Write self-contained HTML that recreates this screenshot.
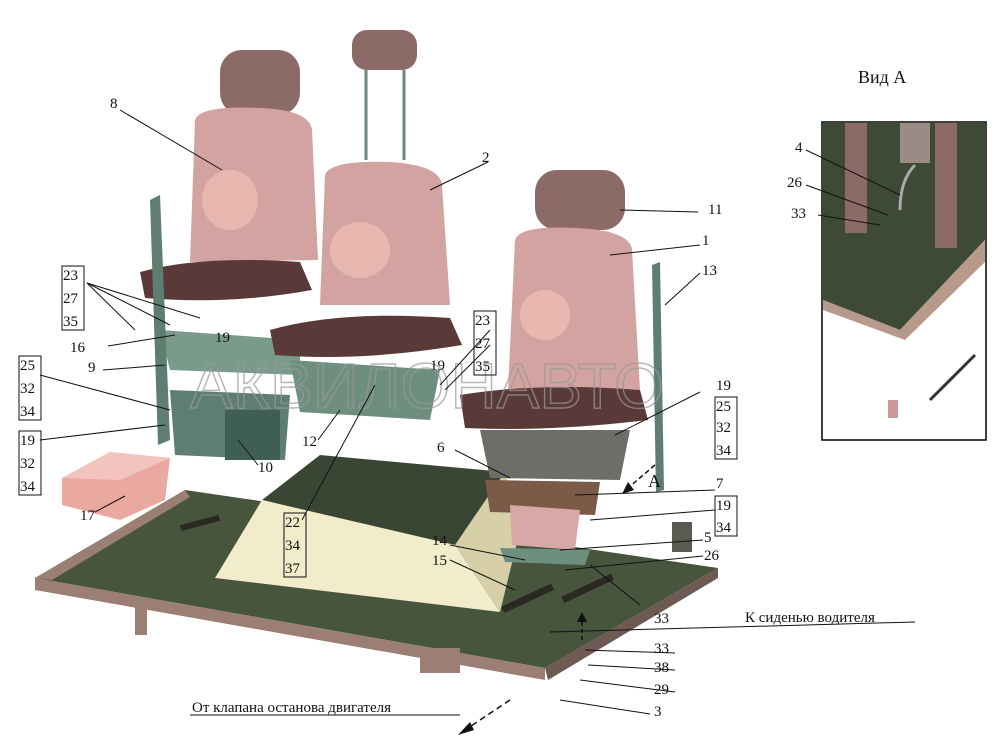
<!DOCTYPE html>
<html><head><meta charset="utf-8"><style>
html,body{margin:0;padding:0;background:#fff;}
svg{display:block}
text{font-family:"Liberation Serif",serif;font-size:15px;fill:#111}
</style></head><body>
<svg width="1000" height="756" viewBox="0 0 1000 756" xmlns="http://www.w3.org/2000/svg">
<!-- floor -->
<polygon points="185,490 718,568 545,668 35,578" fill="#46553b"/>
<polygon points="35,578 545,668 545,680 35,590" fill="#9b7f74"/>
<polygon points="35,578 185,490 190,497 52,580" fill="#9b7f74"/>
<polygon points="545,668 718,568 718,578 548,680" fill="#6e5a52"/>
<rect x="135" y="600" width="12" height="35" fill="#9b7f74"/>
<rect x="420" y="648" width="40" height="25" fill="#9b7f74"/>
<rect x="180" y="520" width="40" height="6" fill="#2a2a22" transform="rotate(-15 200 523)"/>
<rect x="500" y="595" width="55" height="7" fill="#2a2a22" transform="rotate(-25 527 598)"/>
<rect x="560" y="585" width="55" height="7" fill="#2a2a22" transform="rotate(-25 587 588)"/>
<!-- box platform -->
<polygon points="262,500 320,455 505,472 455,545" fill="#3a4634"/>
<polygon points="215,578 262,500 455,545 500,612" fill="#f2eccb"/>
<polygon points="455,545 505,472 520,530 500,612" fill="#d6cfa8"/>
<!-- left seat -->
<rect x="220" y="50" width="80" height="65" rx="22" fill="#8c6a68"/>
<path d="M195,120 Q200,105 260,108 Q310,110 312,130 L318,260 L190,262 Z" fill="#d3a3a2"/>
<ellipse cx="230" cy="200" rx="28" ry="30" fill="#e8b8b0"/>
<path d="M140,272 Q200,255 300,262 L312,290 Q230,305 145,298 Z" fill="#5a3a38"/>
<polygon points="160,330 300,340 300,375 170,370" fill="#7a9a8c"/>
<polygon points="170,390 290,395 285,460 175,455" fill="#5e7e72"/>
<rect x="225" y="410" width="55" height="50" fill="#3f5e55"/>
<polygon points="150,200 160,195 170,440 158,445" fill="#5e7e72"/>
<!-- middle seat -->
<rect x="352" y="30" width="65" height="40" rx="15" fill="#8c6a68"/>
<line x1="366" y1="70" x2="366" y2="160" stroke="#6a8a80" stroke-width="3"/>
<line x1="404" y1="70" x2="404" y2="160" stroke="#6a8a80" stroke-width="3"/>
<path d="M325,175 Q330,160 390,162 Q440,165 442,185 L450,305 L320,305 Z" fill="#d3a3a2"/>
<ellipse cx="360" cy="250" rx="30" ry="28" fill="#e8b8b0"/>
<path d="M270,330 Q340,310 450,318 L462,345 Q360,362 275,355 Z" fill="#5a3a38"/>
<polygon points="290,360 440,370 430,420 300,412" fill="#6e8e80"/>
<!-- right seat -->
<rect x="535" y="170" width="90" height="60" rx="22" fill="#8c6a68"/>
<path d="M515,240 Q520,225 575,228 Q630,230 632,250 L640,390 L508,390 Z" fill="#d3a3a2"/>
<ellipse cx="545" cy="315" rx="25" ry="25" fill="#e8b8b0"/>
<path d="M460,395 Q540,382 640,390 L648,420 Q550,432 465,428 Z" fill="#5a3a38"/>
<polygon points="480,430 630,430 620,480 490,478" fill="#6e6e68"/>
<polygon points="485,480 600,482 595,515 490,512" fill="#7b5a48"/>
<polygon points="510,505 580,510 575,550 512,545" fill="#d6a9a6"/>
<polygon points="500,548 590,550 585,565 505,562" fill="#6e8e80"/>
<polygon points="652,265 660,262 664,490 656,492" fill="#5e7e72"/>
<rect x="672" y="522" width="20" height="30" fill="#5a5a50"/>
<!-- box 17 -->
<polygon points="62,478 110,452 170,458 165,500 120,520 62,505" fill="#e9a8a0"/>
<polygon points="62,478 110,452 170,458 120,480" fill="#f3c4be"/>
<!-- watermark -->
<text x="190" y="408" style="font-family:'Liberation Sans',sans-serif;font-size:64px;fill:none;stroke:#999;stroke-width:1.5;opacity:.7">АКВИЛОНАВТО</text>
<!-- inset -->
<rect x="822" y="122" width="164" height="318" fill="#fff" stroke="#000" stroke-width="1.5"/>
<polygon points="823,123 985,123 985,240 900,330 823,300" fill="#3e4a36"/>
<polygon points="823,300 900,330 985,240 985,262 905,340 823,310" fill="#b89a8c"/>
<rect x="845" y="123" width="22" height="110" fill="#8c6a68"/>
<rect x="935" y="123" width="22" height="125" fill="#8c6a68"/>
<rect x="900" y="123" width="30" height="40" fill="#9c8a84"/>
<path d="M915,165 Q900,180 900,210" stroke="#aaa" stroke-width="3" fill="none"/>
<line x1="930" y1="400" x2="975" y2="355" stroke="#333" stroke-width="3"/>
<rect x="888" y="400" width="10" height="18" fill="#c99"/>
<text x="858" y="83" style="font-size:18px">Вид А</text>
<!-- leader lines -->
<g stroke="#111" stroke-width="1" fill="none">
<line x1="120" y1="110" x2="222" y2="170"/>
<line x1="488" y1="162" x2="430" y2="190"/>
<line x1="698" y1="212" x2="620" y2="210"/>
<line x1="700" y1="245" x2="610" y2="255"/>
<line x1="700" y1="273" x2="665" y2="305"/>
<line x1="87" y1="283" x2="170" y2="325"/><line x1="87" y1="283" x2="135" y2="330"/><line x1="87" y1="283" x2="200" y2="318"/>
<line x1="108" y1="346" x2="175" y2="335"/>
<line x1="103" y1="370" x2="165" y2="365"/>
<line x1="40" y1="375" x2="170" y2="410"/>
<line x1="40" y1="440" x2="165" y2="425"/>
<line x1="95" y1="512" x2="125" y2="496"/>
<line x1="258" y1="465" x2="238" y2="440"/>
<line x1="318" y1="440" x2="340" y2="410"/>
<line x1="302" y1="520" x2="375" y2="385"/>
<line x1="490" y1="330" x2="440" y2="385"/>
<line x1="490" y1="345" x2="445" y2="390"/>
<line x1="455" y1="450" x2="510" y2="478"/>
<line x1="700" y1="392" x2="615" y2="435"/>
<line x1="715" y1="490" x2="575" y2="495"/>
<line x1="715" y1="510" x2="590" y2="520"/>
<line x1="703" y1="540" x2="560" y2="550"/>
<line x1="703" y1="556" x2="565" y2="570"/>
<line x1="450" y1="545" x2="525" y2="560"/>
<line x1="450" y1="560" x2="515" y2="590"/>
<line x1="640" y1="605" x2="590" y2="565"/>
<line x1="550" y1="632" x2="915" y2="622"/>
<line x1="675" y1="653" x2="585" y2="650"/>
<line x1="675" y1="670" x2="588" y2="665"/>
<line x1="675" y1="692" x2="580" y2="680"/>
<line x1="650" y1="714" x2="560" y2="700"/>
<line x1="190" y1="715" x2="460" y2="715"/>
<line x1="806" y1="150" x2="900" y2="195"/>
<line x1="806" y1="185" x2="888" y2="215"/>
<line x1="818" y1="215" x2="880" y2="225"/>
</g>
<line x1="510" y1="700" x2="465" y2="730" stroke="#111" stroke-width="1.5" stroke-dasharray="6,4"/>
<polygon points="458,735 470,722 474,730" fill="#111"/>
<line x1="655" y1="465" x2="628" y2="488" stroke="#111" stroke-width="1.5" stroke-dasharray="5,3"/>
<polygon points="622,494 628,482 634,490" fill="#111"/>
<line x1="582" y1="640" x2="582" y2="620" stroke="#111" stroke-width="1.5" stroke-dasharray="4,3"/>
<polygon points="582,612 577,622 587,622" fill="#111"/>
<!-- labels -->
<text x="110" y="108">8</text>
<text x="482" y="162">2</text>
<text x="708" y="214">11</text>
<text x="702" y="245">1</text>
<text x="702" y="275">13</text>
<text x="648" y="487" style="font-size:18px">A</text>
<text x="63" y="280">23</text>
<text x="63" y="303">27</text>
<text x="63" y="326">35</text>
<text x="70" y="352">16</text>
<text x="215" y="342">19</text>
<text x="88" y="372">9</text>
<text x="20" y="370">25</text>
<text x="20" y="393">32</text>
<text x="20" y="416">34</text>
<text x="20" y="445">19</text>
<text x="20" y="468">32</text>
<text x="20" y="491">34</text>
<text x="80" y="520">17</text>
<text x="258" y="472">10</text>
<text x="302" y="446">12</text>
<text x="475" y="325">23</text>
<text x="475" y="348">27</text>
<text x="475" y="371">35</text>
<text x="430" y="370">19</text>
<text x="285" y="527">22</text>
<text x="285" y="550">34</text>
<text x="285" y="573">37</text>
<text x="437" y="452">6</text>
<text x="716" y="390">19</text>
<text x="716" y="411">25</text>
<text x="716" y="432">32</text>
<text x="716" y="455">34</text>
<text x="716" y="488">7</text>
<text x="716" y="510">19</text>
<text x="716" y="532">34</text>
<text x="704" y="542">5</text>
<text x="704" y="560">26</text>
<text x="432" y="545">14</text>
<text x="432" y="565">15</text>
<text x="654" y="623">33</text>
<text x="745" y="622">К сиденью водителя</text>
<text x="654" y="653">33</text>
<text x="654" y="672">38</text>
<text x="654" y="694">29</text>
<text x="654" y="716">3</text>
<text x="192" y="712">От клапана останова двигателя</text>
<text x="795" y="152">4</text>
<text x="787" y="187">26</text>
<text x="791" y="218">33</text>
<g stroke="#111" stroke-width="1" fill="none">
<rect x="62" y="266" width="22" height="64"/>
<rect x="19" y="356" width="22" height="64"/>
<rect x="19" y="431" width="22" height="64"/>
<rect x="474" y="311" width="22" height="64"/>
<rect x="284" y="513" width="22" height="64"/>
<rect x="715" y="397" width="22" height="62"/>
<rect x="715" y="496" width="22" height="40"/>
</g>
</svg>
</body></html>
